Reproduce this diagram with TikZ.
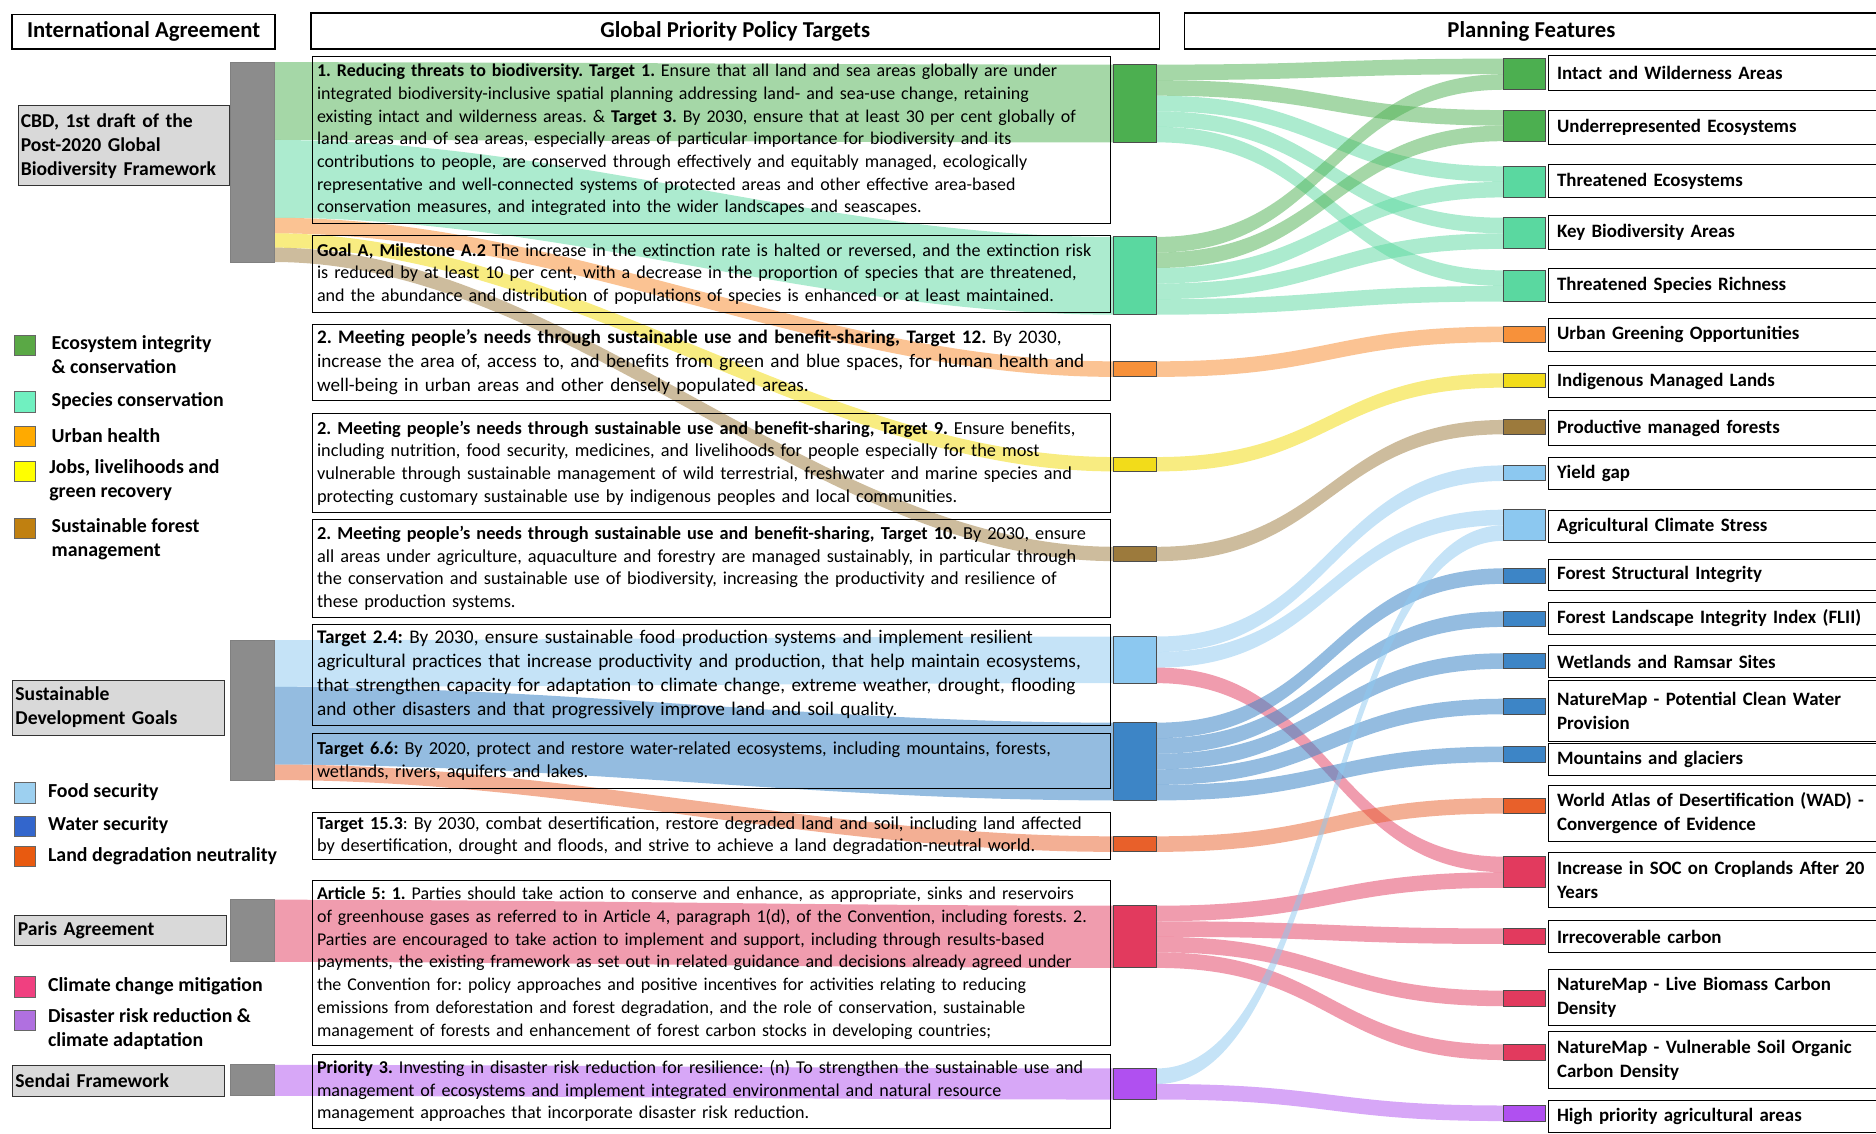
\documentclass[tikz,border=0pt]{standalone}
\usepackage{fontspec}
\setmainfont{Carlito}
\usetikzlibrary{calc}
\frenchspacing
\definecolor{cGreen}{HTML}{4CAF50}
\definecolor{cMint}{HTML}{5AD8A0}
\definecolor{cUrb}{HTML}{F7913A}
\definecolor{cYel}{HTML}{F2DC1A}
\definecolor{cBrn}{HTML}{9C7A3C}
\definecolor{cFood}{HTML}{8CC8F0}
\definecolor{cWater}{HTML}{3D85C6}
\definecolor{cLdn}{HTML}{E8602A}
\definecolor{cClim}{HTML}{E23A5E}
\definecolor{cPurp}{HTML}{B050F0}
\definecolor{lGreen}{HTML}{5AA845}
\definecolor{lMint}{HTML}{70F0C0}
\definecolor{lUrb}{HTML}{FFAA00}
\definecolor{lYel}{HTML}{FFFF00}
\definecolor{lBrn}{HTML}{C08010}
\definecolor{lFood}{HTML}{9DD0F0}
\definecolor{lWater}{HTML}{3366CC}
\definecolor{lLdn}{HTML}{E85A10}
\definecolor{lClim}{HTML}{F04080}
\definecolor{lPurp}{HTML}{B070E0}
\definecolor{cBar}{HTML}{8C8C8C}
\definecolor{cBox}{HTML}{D9D9D9}
\newcommand\fsz[2]{\fontsize{#1}{#2}\selectfont\frenchspacing}
% Sankey band: [curvature]{style}{source}{src offset}{target}{tgt offset}{width}
\newcommand\flow[7][0.5]{%
 \fill[#2] let \p1=(#3.north east), \p2=(#5.north west) in
  (\x1,{\y1-#4pt}) .. controls ({\x1+#1*(\x2-\x1)},{\y1-#4pt}) and ({\x2-#1*(\x2-\x1)},{\y2-#6pt}) .. (\x2,{\y2-#6pt})
  -- (\x2,{\y2-#6pt-#7pt}) .. controls ({\x2-#1*(\x2-\x1)},{\y2-#6pt-#7pt}) and ({\x1+#1*(\x2-\x1)},{\y1-#4pt-#7pt}) .. (\x1,{\y1-#4pt-#7pt}) -- cycle;}
\tikzset{
 blk/.style={draw=black!70, line width=0.8pt, minimum width=36, inner sep=0, outer sep=0},
 rblk/.style={blk, minimum width=35},
 gbar/.style={draw=black!50, line width=0.8pt, fill=cBar, minimum width=36, inner sep=0, outer sep=0},
 tbox/.style={draw=black, line width=0.8pt, anchor=north west, minimum width=667, text width=659, inner xsep=4, inner ysep=1, align=left, outer sep=0},
 lbox/.style={draw=black, line width=0.8pt, anchor=north west, minimum width=290, text width=276, inner xsep=7, inner ysep=1, align=left, font=\fsz{15.8}{20}\bfseries},
 hbox/.style={draw=black, line width=1.3pt, font=\fsz{19}{22}\bfseries, inner sep=0},
 abox/.style={draw=black!80, line width=0.8pt, fill=cBox, anchor=north west, text width=172, inner xsep=2, inner ysep=0, align=left, font=\fsz{16.4}{20}\bfseries},
 legsq/.style={draw=black!60, line width=0.6pt, minimum size=17, inner sep=0, anchor=north west},
 legtx/.style={anchor=west, align=left, inner sep=0, font=\fsz{16.6}{20}\bfseries},
 fGreen/.style={fill=cGreen, fill opacity=0.5},
 fMint/.style={fill=cMint, fill opacity=0.5},
 fUrb/.style={fill=cUrb, fill opacity=0.55},
 fYel/.style={fill=cYel, fill opacity=0.55},
 fBrn/.style={fill=cBrn, fill opacity=0.5},
 fFood/.style={fill=cFood, fill opacity=0.5},
 fWater/.style={fill=cWater, fill opacity=0.55},
 fLdn/.style={fill=cLdn, fill opacity=0.5},
 fClim/.style={fill=cClim, fill opacity=0.5},
 fPurp/.style={fill=cPurp, fill opacity=0.5},
}
\begin{document}
\begin{tikzpicture}[x=1pt,y=-1pt]
\useasboundingbox (0,0) rectangle (1568,947);
% ---------- blocks (nodes) ----------
\node[gbar, minimum height=167] (cbdbar) at (211,135.5) {};
\node[gbar, minimum height=117] (sdgbar) at (211,593.5) {};
\node[gbar, minimum height=52] (parisbar) at (211,778) {};
\node[gbar, minimum height=26] (sendaibar) at (211,903) {};

\node[blk, fill=cGreen, minimum height=65] (g1) at (949,86.5) {};
\node[blk, fill=cMint, minimum height=65] (g2) at (949,230.5) {};
\node[blk, fill=cUrb, minimum height=13] (urb) at (949,308.5) {};
\node[blk, fill=cYel, minimum height=12] (yel) at (949,388) {};
\node[blk, fill=cBrn, minimum height=12] (brn) at (949,463) {};
\node[blk, fill=cFood, minimum height=39] (food) at (949,551.5) {};
\node[blk, fill=cWater, minimum height=65] (water) at (949,636.5) {};
\node[blk, fill=cLdn, minimum height=13] (ldn) at (949,705.5) {};
\node[blk, fill=cClim, minimum height=52] (clim) at (949,783) {};
\node[blk, fill=cPurp, minimum height=26] (purp) at (949,906) {};

\node[rblk, fill=cGreen, minimum height=26] (intact) at (1274.5,62) {};
\node[rblk, fill=cGreen, minimum height=26] (under) at (1274.5,105) {};
\node[rblk, fill=cMint, minimum height=26] (threco) at (1274.5,152) {};
\node[rblk, fill=cMint, minimum height=26] (kba) at (1274.5,195) {};
\node[rblk, fill=cMint, minimum height=26] (tsr) at (1274.5,239) {};
\node[rblk, fill=cUrb, minimum height=13] (ugo) at (1274.5,279.5) {};
\node[rblk, fill=cYel, minimum height=12] (iml) at (1274.5,318) {};
\node[rblk, fill=cBrn, minimum height=12] (pmf) at (1274.5,357) {};
\node[rblk, fill=cFood, minimum height=13] (yg) at (1274.5,395.5) {};
\node[rblk, fill=cFood, minimum height=26] (acs) at (1274.5,439) {};
\node[rblk, fill=cWater, minimum height=13] (fsi) at (1274.5,481.5) {};
\node[rblk, fill=cWater, minimum height=13] (flii) at (1274.5,517.5) {};
\node[rblk, fill=cWater, minimum height=13] (wet) at (1274.5,552.5) {};
\node[rblk, fill=cWater, minimum height=13] (cwp) at (1274.5,590.5) {};
\node[rblk, fill=cWater, minimum height=13] (mtn) at (1274.5,630.5) {};
\node[rblk, fill=cLdn, minimum height=13] (wad) at (1274.5,673.5) {};
\node[rblk, fill=cClim, minimum height=26] (soc) at (1274.5,729) {};
\node[rblk, fill=cClim, minimum height=13] (irr) at (1274.5,782.5) {};
\node[rblk, fill=cClim, minimum height=13] (lbc) at (1274.5,834.5) {};
\node[rblk, fill=cClim, minimum height=13] (vsoc) at (1274.5,879.5) {};
\node[rblk, fill=cPurp, minimum height=13] (hpa) at (1274.5,930.5) {};

% ---------- flows ----------
\flow[0.35]{fGreen}{cbdbar}{0}{g1}{0}{65}
\flow[0.35]{fMint}{cbdbar}{65}{g2}{0}{65}
\flow[0.35]{fUrb}{cbdbar}{130}{urb}{0}{13}
\flow[0.35]{fYel}{cbdbar}{143}{yel}{0}{12}
\flow[0.35]{fBrn}{cbdbar}{155}{brn}{0}{12}
\flow[0.35]{fFood}{sdgbar}{0}{food}{0}{39}
\flow[0.35]{fWater}{sdgbar}{39}{water}{0}{65}
\flow[0.35]{fLdn}{sdgbar}{104}{ldn}{0}{13}
\flow[0.35]{fClim}{parisbar}{0}{clim}{0}{52}
\flow[0.35]{fPurp}{sendaibar}{0}{purp}{0}{26}

\flow{fGreen}{g1}{0}{intact}{0}{13}
\flow{fGreen}{g1}{13}{under}{0}{13}
\flow{fMint}{g1}{26}{threco}{0}{13}
\flow{fMint}{g1}{39}{kba}{0}{13}
\flow{fMint}{g1}{52}{tsr}{0}{13}
\flow{fGreen}{g2}{0}{intact}{13}{13}
\flow{fGreen}{g2}{13}{under}{13}{13}
\flow{fMint}{g2}{26}{threco}{13}{13}
\flow{fMint}{g2}{39}{kba}{13}{13}
\flow{fMint}{g2}{52}{tsr}{13}{13}
\flow{fUrb}{urb}{0}{ugo}{0}{13}
\flow{fYel}{yel}{0}{iml}{0}{12}
\flow{fBrn}{brn}{0}{pmf}{0}{12}
\flow{fFood}{food}{0}{yg}{0}{13}
\flow{fFood}{food}{13}{acs}{0}{13}
\flow{fClim}{food}{26}{soc}{0}{13}
\flow{fWater}{water}{0}{fsi}{0}{13}
\flow{fWater}{water}{13}{flii}{0}{13}
\flow{fWater}{water}{26}{wet}{0}{13}
\flow{fWater}{water}{39}{cwp}{0}{13}
\flow{fWater}{water}{52}{mtn}{0}{13}
\flow{fLdn}{ldn}{0}{wad}{0}{13}
\flow{fClim}{clim}{0}{soc}{13}{13}
\flow{fClim}{clim}{13}{irr}{0}{13}
\flow{fClim}{clim}{26}{lbc}{0}{13}
\flow{fClim}{clim}{39}{vsoc}{0}{13}
\flow{fFood}{purp}{0}{acs}{13}{13}
\flow{fPurp}{purp}{13}{hpa}{0}{13}

% redraw blocks on top of flows
\foreach \b/\c in {g1/cGreen,g2/cMint,urb/cUrb,yel/cYel,brn/cBrn,food/cFood,water/cWater,ldn/cLdn,clim/cClim,purp/cPurp,
  intact/cGreen,under/cGreen,threco/cMint,kba/cMint,tsr/cMint,ugo/cUrb,iml/cYel,pmf/cBrn,yg/cFood,acs/cFood,
  fsi/cWater,flii/cWater,wet/cWater,cwp/cWater,mtn/cWater,wad/cLdn,soc/cClim,irr/cClim,lbc/cClim,vsoc/cClim,hpa/cPurp}
  \draw[fill=\c, draw=black!70, line width=0.8pt] (\b.north west) rectangle (\b.south east);
\foreach \b in {cbdbar,sdgbar,parisbar,sendaibar}
  \draw[fill=cBar, draw=black!50, line width=0.8pt] (\b.north west) rectangle (\b.south east);

% ---------- headers ----------
\node[hbox, minimum width=220, minimum height=29] (hIA) at (120,26.5) {International Agreement};
\node[hbox, minimum width=709, minimum height=30] (hGP) at (614.5,26) {Global Priority Policy Targets};
\node[hbox, minimum width=580, minimum height=30] (hPF) at (1280,26) {Planning Features};

% ---------- agreements ----------
\node[abox, minimum width=172, minimum height=67] (cbdbox) at (15,88) {CBD, 1st draft of the\\Post-2020 Global\\Biodiversity Framework};
\node[abox, minimum width=177, minimum height=46] (sdgbox) at (10,568) {Sustainable\\Development Goals};
\node[abox, minimum width=177, minimum height=25] (parisbox) at (12,765) {Paris Agreement};
\node[abox, minimum width=177, minimum height=26] (sendaibox) at (10,890) {Sendai Framework};

% ---------- legends ----------
\node[legsq, fill=lGreen] (sqEco) at (12,280) {};
\node[legtx] (txEco) at (43,296.5) {Ecosystem integrity\\\& conservation};
\node[legsq, fill=lMint] (sqSpc) at (12,327) {};
\node[legtx] (txSpc) at (43,335.5) {Species conservation};
\node[legsq, fill=lUrb] (sqUrb) at (12,356) {};
\node[legtx] (txUrb) at (43,364.5) {Urban health};
\node[legsq, fill=lYel] (sqJob) at (12,385) {};
\node[legtx] (txJob) at (41,401) {Jobs, livelihoods and\\green recovery};
\node[legsq, fill=lBrn] (sqSfm) at (12,433) {};
\node[legtx] (txSfm) at (43,451) {Sustainable forest\\management};
\node[legsq, fill=lFood] (sqFood) at (12,654) {};
\node[legtx] (txFood) at (40,662) {Food security};
\node[legsq, fill=lWater] (sqWat) at (12,682) {};
\node[legtx] (txWat) at (40,690) {Water security};
\node[legsq, fill=lLdn] (sqLdn) at (12,707) {};
\node[legtx] (txLdn) at (40,716) {Land degradation neutrality};
\node[legsq, fill=lClim] (sqClim) at (12,816) {};
\node[legtx] (txClim) at (40,824.5) {Climate change mitigation};
\node[legsq, fill=lPurp] (sqDis) at (12,844) {};
\node[legtx] (txDis) at (40,860) {Disaster risk reduction \&\\climate adaptation};

% ---------- policy target boxes ----------
\node[tbox, minimum height=140, font=\fsz{15.0}{19}] (t1) at (261,47) {\textbf{1. Reducing threats to biodiversity. Target 1.} Ensure that all land and sea areas globally are under\\
integrated biodiversity-inclusive spatial planning addressing land- and sea-use change, retaining\\
existing intact and wilderness areas. \& \textbf{Target 3.} By 2030, ensure that at least 30 per cent globally of\\
land areas and of sea areas, especially areas of particular importance for biodiversity and its\\
contributions to people, are conserved through effectively and equitably managed, ecologically\\
representative and well-connected systems of protected areas and other effective area-based\\
conservation measures, and integrated into the wider landscapes and seascapes.};
\node[tbox, minimum height=64, font=\fsz{15.1}{19}] (t2) at (261,197) {\textbf{Goal A, Milestone A.2} The increase in the extinction rate is halted or reversed, and the extinction risk\\
is reduced by at least 10 per cent, with a decrease in the proportion of species that are threatened,\\
and the abundance and distribution of populations of species is enhanced or at least maintained.};
\node[tbox, minimum height=64, font=\fsz{16.0}{20}] (t3) at (261,271) {\textbf{2. Meeting people’s needs through sustainable use and benefit-sharing, Target 12.} By 2030,\\
increase the area of, access to, and benefits from green and blue spaces, for human health and\\
well-being in urban areas and other densely populated areas.};
\node[tbox, minimum height=82, font=\fsz{15.3}{19}] (t4) at (261,346) {\textbf{2. Meeting people’s needs through sustainable use and benefit-sharing, Target 9.} Ensure benefits,\\
including nutrition, food security, medicines, and livelihoods for people especially for the most\\
vulnerable through sustainable management of wild terrestrial, freshwater and marine species and\\
protecting customary sustainable use by indigenous peoples and local communities.};
\node[tbox, minimum height=82, font=\fsz{15.3}{19}] (t5) at (261,434) {\textbf{2. Meeting people’s needs through sustainable use and benefit-sharing, Target 10.} By 2030, ensure\\
all areas under agriculture, aquaculture and forestry are managed sustainably, in particular through\\
the conservation and sustainable use of biodiversity, increasing the productivity and resilience of\\
these production systems.};
\node[tbox, minimum height=84, font=\fsz{16.1}{20}] (t6) at (261,522) {\textbf{Target 2.4:} By 2030, ensure sustainable food production systems and implement resilient\\
agricultural practices that increase productivity and production, that help maintain ecosystems,\\
that strengthen capacity for adaptation to climate change, extreme weather, drought, flooding\\
and other disasters and that progressively improve land and soil quality.};
\node[tbox, minimum height=46, font=\fsz{15.3}{19}] (t7) at (261,613) {\textbf{Target 6.6:} By 2020, protect and restore water-related ecosystems, including mountains, forests,\\
wetlands, rivers, aquifers and lakes.};
\node[tbox, minimum height=39, font=\fsz{15.3}{19}] (t8) at (261,679) {\textbf{Target 15.3}: By 2030, combat desertification, restore degraded land and soil, including land affected\\
by desertification, drought and floods, and strive to achieve a land degradation-neutral world.};
\node[tbox, minimum height=138, font=\fsz{15.0}{19}] (t9) at (261,736) {\textbf{Article 5: 1.} Parties should take action to conserve and enhance, as appropriate, sinks and reservoirs\\
of greenhouse gases as referred to in Article 4, paragraph 1(d), of the Convention, including forests. 2.\\
Parties are encouraged to take action to implement and support, including through results-based\\
payments, the existing framework as set out in related guidance and decisions already agreed under\\
the Convention for: policy approaches and positive incentives for activities relating to reducing\\
emissions from deforestation and forest degradation, and the role of conservation, sustainable\\
management of forests and enhancement of forest carbon stocks in developing countries;};
\node[tbox, minimum height=62, font=\fsz{15.1}{19}] (t10) at (261,881) {\textbf{Priority 3.} Investing in disaster risk reduction for resilience: (n) To strengthen the sustainable use and\\
management of ecosystems and implement integrated environmental and natural resource\\
management approaches that incorporate disaster risk reduction.};

% ---------- planning feature labels ----------
\node[lbox, minimum height=29] (Lintact) at (1294,46) {Intact and Wilderness Areas};
\node[lbox, minimum height=28] (Lunder) at (1294,92) {Underrepresented Ecosystems};
\node[lbox, minimum height=28] (Lthreco) at (1294,137) {Threatened Ecosystems};
\node[lbox, minimum height=28] (Lkba) at (1294,180) {Key Biodiversity Areas};
\node[lbox, minimum height=28] (Ltsr) at (1294,224) {Threatened Species Richness};
\node[lbox, minimum height=27] (Lugo) at (1294,266) {Urban Greening Opportunities};
\node[lbox, minimum height=27] (Liml) at (1294,305) {Indigenous Managed Lands};
\node[lbox, minimum height=29] (Lpmf) at (1294,343) {Productive managed forests};
\node[lbox, minimum height=27] (Lyg) at (1294,382) {Yield gap};
\node[lbox, minimum height=27] (Lacs) at (1294,426) {Agricultural Climate Stress};
\node[lbox, minimum height=26] (Lfsi) at (1294,467) {Forest Structural Integrity};
\node[lbox, minimum height=27] (Lflii) at (1294,503) {Forest Landscape Integrity Index (FLII)};
\node[lbox, minimum height=27] (Lwet) at (1294,539) {Wetlands and Ramsar Sites};
\node[lbox, minimum height=51] (Lcwp) at (1294,568) {NatureMap - Potential Clean Water\\Provision};
\node[lbox, minimum height=27] (Lmtn) at (1294,621) {Mountains and glaciers};
\node[lbox, minimum height=47] (Lwad) at (1294,656) {World Atlas of Desertification (WAD) -\\Convergence of Evidence};
\node[lbox, minimum height=46] (Lsoc) at (1294,712) {Increase in SOC on Croplands After 20\\Years};
\node[lbox, minimum height=27] (Lirr) at (1294,769) {Irrecoverable carbon};
\node[lbox, minimum height=47] (Llbc) at (1294,810) {NatureMap - Live Biomass Carbon\\Density};
\node[lbox, minimum height=47] (Lvsoc) at (1294,862) {NatureMap - Vulnerable Soil Organic\\Carbon Density};
\node[lbox, minimum height=27] (Lhpa) at (1294,919) {High priority agricultural areas};
\end{tikzpicture}
\end{document}
